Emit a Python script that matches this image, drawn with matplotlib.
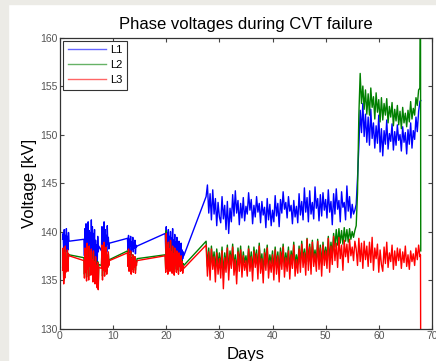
"""Phase voltages during CVT failure - L1/L2/L3 over days."""

from __future__ import annotations

import numpy as np
import matplotlib

matplotlib.use("Agg")
import matplotlib.pyplot as plt
from matplotlib.patches import Rectangle

plt.rcParams["font.family"] = ["Liberation Sans", "DejaVu Sans"]

# sampling days of the measurement clusters (start, stop, step)
segments = [
    (0.5, 1.7, 0.1),
    (4.5, 7.3, 0.1),
    (7.8, 9.3, 0.1),
    (12.7, 14.5, 0.1),
    (19.8, 23.3, 0.1),
    (27.5, 67.75, 0.25),
]

# L1 [kV]
l1_clusters = [
    139.2, 139.8, 137.6, 140.2, 138.5, 139.6, 137.9, 140.3, 138.8, 139.5, 138.1, 139.9, 139.0,
    139.2, 137.5, 140.3, 138.2, 140.8, 137.9, 139.6, 138.4, 141.0, 137.2, 140.1, 138.8, 139.9, 137.6,
    141.2, 138.3, 140.5, 137.0, 139.8, 138.1, 140.2, 136.8, 139.1, 137.4, 138.6, 136.2, 139.5, 137.9, 138.5,
    138.0, 140.5, 137.5, 139.8, 138.6, 141.0, 137.8, 140.2, 138.4, 139.6, 137.9, 140.6, 138.7, 139.4, 138.2, 138.8,
    139.3, 138.1, 139.6, 137.8, 139.2, 138.5, 139.5, 137.6, 138.9, 138.2, 139.4, 137.9, 138.8, 138.3, 139.1,
    137.7, 138.6, 138.4, 138.5,
    139.8, 138.0, 140.5, 137.6, 139.9, 138.4, 140.2, 137.3, 139.5, 138.1, 140.0, 137.8, 139.3, 138.6, 140.3,
    137.5, 139.1, 138.2, 139.7, 137.1, 138.9, 137.9, 139.4, 136.9, 138.7, 137.6, 139.0, 136.8, 138.5, 137.4,
    138.8, 136.6, 138.1, 137.2, 137.9, 137.5,
]
l1_long = [
    143.6, 144.8, 141.9, 143.9, 141.2, 144.3, 141.8, 143.4, 140.6, 143.0, 141.5,
    140.9, 143.6, 141.3, 142.7, 140.2, 143.1, 139.8, 142.4, 141.0, 143.8,
    141.6, 144.2, 141.9, 143.2, 140.7, 142.9, 141.4, 143.5, 141.1, 142.6,
    141.8, 144.0, 142.2, 143.3, 140.8, 142.7, 141.5, 143.6, 142.0, 142.9,
    140.9, 143.1, 141.7, 142.5, 140.4, 143.4, 141.2, 142.8, 140.6, 142.2,
    141.0, 143.7, 141.6, 142.9, 140.5, 143.3, 141.9, 144.1, 142.3, 143.0,
    141.4, 143.6, 142.1, 142.7, 140.8, 143.2, 141.5, 142.6, 140.9, 143.9,
    141.7, 143.1, 141.2, 144.5, 142.0, 143.5, 141.0, 144.2, 141.8, 143.0,
    141.3, 144.6, 142.4, 143.4, 141.1, 143.8, 141.6, 144.0, 142.2, 143.3,
    141.4, 144.3, 142.0, 143.1, 140.7, 143.9, 141.8, 144.4, 142.3, 143.2, 141.0,
    144.1, 142.5, 143.0, 141.2, 144.7, 142.1, 143.6, 141.4, 142.8, 141.8, 142.2,
    142.8, 145.5, 148.8, 152.5, 150.2, 153.2, 149.8, 152.1, 149.2, 151.8,
    148.9, 152.6, 149.6, 151.2, 148.6, 150.9, 149.1, 152.0, 148.2, 150.6,
    147.8, 150.4, 149.0, 151.5, 148.5, 150.1, 149.3, 151.1, 148.4, 150.3,
    148.9, 151.0, 149.4, 150.0, 148.3, 150.8, 149.2, 150.2, 148.0, 150.5,
    149.0, 151.2, 148.6, 150.4, 149.5, 151.8, 150.3, 152.4, 153.4,
]

# L2 [kV]
l2_clusters = [
    136.3, 138.0, 135.0, 137.5, 135.6, 138.2, 136.1, 137.0, 136.7, 137.9, 136.2, 137.6, 137.6,
    137.3, 135.6, 138.0, 136.2, 137.8, 135.3, 138.5, 136.4, 137.5, 135.4, 138.2, 136.7, 137.7, 135.9,
    138.0, 136.3, 137.3, 135.0, 137.8, 136.0, 137.0, 135.1, 137.2, 135.7, 136.6, 134.8, 136.9, 134.6, 136.6,
    136.5, 138.3, 135.4, 137.9, 136.3, 138.6, 135.8, 137.6, 136.2, 138.1, 135.9, 137.4, 136.6, 137.7, 136.8, 137.1,
    138.0, 136.7, 138.0, 136.2, 137.6, 137.0, 137.9, 136.0, 137.3, 136.4, 137.6, 136.1, 137.0, 136.6, 137.4,
    136.0, 136.9, 136.8, 137.2,
    137.6, 136.1, 140.1, 136.5, 138.5, 136.0, 138.7, 136.8, 138.1, 136.2, 138.9, 137.0, 137.8, 136.0, 138.4,
    136.6, 137.6, 135.9, 138.2, 136.8, 137.3, 136.1, 137.9, 136.3, 137.5, 135.9, 137.7, 136.6, 137.2, 136.2,
    137.4, 136.3, 137.0, 136.0, 136.7, 136.5,
]
l2_long = [
    139.0, 136.4, 138.3, 136.0, 138.5, 136.8, 137.9, 136.2, 138.2, 136.6, 137.8,
    136.3, 138.4, 135.5, 137.8, 136.6, 138.6, 136.0, 138.0, 136.9, 138.7,
    136.4, 137.6, 135.8, 138.3, 136.7, 138.5, 136.2, 137.9, 136.8, 137.5,
    136.4, 138.5, 136.7, 137.9, 136.0, 138.4, 137.0, 138.1, 136.2, 138.8,
    136.6, 137.7, 135.9, 138.2, 136.8, 138.6, 136.3, 137.6, 136.7, 138.0,
    136.1, 138.4, 136.5, 137.9, 136.0, 138.3, 136.9, 138.7, 136.4, 137.8,
    136.8, 138.4, 136.2, 138.0, 137.0, 138.9, 136.5, 137.6, 136.6, 138.5,
    136.7, 139.0, 137.1, 138.2, 136.6, 139.3, 136.9, 138.7, 136.7, 139.1,
    137.2, 138.1, 136.9, 139.2, 137.0, 138.6, 136.6, 138.9, 137.3, 138.4,
    137.2, 139.5, 137.0, 138.9, 137.6, 139.8, 138.4, 140.2, 138.6, 140.3, 138.8,
    140.1, 138.7, 140.4, 139.0, 140.2, 138.9, 140.3, 139.2, 140.0, 139.4, 140.1,
    140.6, 144.0, 152.0, 156.3, 153.2, 155.0, 152.6, 154.6, 152.1, 154.2,
    152.0, 154.8, 152.8, 153.9, 151.6, 154.3, 152.3, 153.6, 151.3, 153.8,
    151.5, 153.2, 152.0, 153.7, 151.2, 152.9, 151.8, 153.3, 150.9, 152.6,
    151.4, 153.0, 151.0, 152.4, 150.6, 152.8, 151.2, 152.2, 150.8, 152.5,
    151.3, 153.4, 151.6, 152.7, 152.0, 153.8, 153.0, 154.6, 154.8,
]

# L3 [kV]
l3_clusters = [
    136.0, 138.3, 134.6, 137.8, 135.2, 138.5, 135.8, 137.2, 136.4, 138.1, 135.9, 137.7, 137.5,
    137.0, 135.2, 138.3, 135.8, 137.6, 134.9, 138.8, 136.1, 137.3, 135.0, 138.5, 136.4, 137.9, 135.5,
    138.2, 136.0, 137.1, 134.8, 138.0, 135.7, 136.9, 134.6, 137.4, 135.3, 136.5, 134.2, 136.8, 134.0, 136.3,
    136.2, 138.6, 135.0, 138.2, 136.0, 138.9, 135.4, 137.8, 135.9, 138.4, 135.6, 137.5, 136.3, 137.9, 136.5, 137.0,
    137.8, 136.4, 138.2, 135.9, 137.5, 136.8, 138.0, 135.6, 137.2, 136.1, 137.6, 135.8, 136.9, 136.3, 137.4,
    135.7, 136.8, 136.5, 137.0,
    137.5, 135.8, 139.8, 136.2, 138.6, 135.6, 138.9, 136.5, 138.2, 135.9, 139.1, 136.8, 137.9, 135.7, 138.5,
    136.3, 137.7, 135.5, 138.3, 136.6, 137.4, 135.8, 138.0, 136.1, 137.6, 135.6, 137.8, 136.4, 137.2, 135.9,
    137.5, 136.0, 136.9, 135.7, 136.5, 136.2,
]
l3_long = [
    138.6, 135.4, 137.9, 135.0, 138.2, 136.1, 137.4, 134.8, 137.8, 135.6, 137.2,
    135.2, 138.0, 134.1, 137.3, 135.8, 138.3, 135.0, 137.6, 136.2, 138.4,
    135.5, 137.1, 134.6, 137.9, 135.9, 138.1, 135.3, 137.5, 136.0, 137.0,
    135.4, 138.2, 135.9, 137.4, 134.9, 138.0, 136.3, 137.7, 135.1, 138.5,
    135.7, 137.2, 134.7, 137.8, 136.0, 138.3, 135.2, 137.0, 135.8, 137.6,
    135.0, 138.1, 135.6, 137.5, 134.8, 137.9, 136.1, 138.4, 135.3, 137.3,
    135.9, 138.0, 135.1, 137.6, 136.2, 138.6, 135.4, 137.1, 135.7, 138.2,
    135.8, 138.7, 136.3, 137.8, 135.5, 139.2, 136.0, 138.4, 135.6, 138.9,
    136.4, 137.7, 135.9, 139.0, 136.1, 138.3, 135.4, 138.6, 136.5, 138.0,
    136.2, 139.3, 135.8, 138.5, 136.6, 139.5, 137.0, 138.8, 136.3, 139.4, 137.2,
    138.6, 136.0, 139.1, 137.4, 138.7, 136.8, 139.2, 137.5, 138.4, 137.0, 139.0,
    138.2, 136.5, 139.3, 136.9, 138.8, 136.2, 139.0, 137.1, 138.5, 136.4,
    138.9, 136.8, 139.4, 136.0, 138.3, 137.2, 138.7, 135.8, 138.1, 136.6,
    135.9, 138.4, 136.7, 138.9, 136.3, 137.8, 136.9, 138.6, 136.1, 138.0,
    136.5, 138.3, 137.0, 138.2, 136.2, 137.9, 136.8, 138.5, 136.4, 137.6,
    136.1, 138.0, 136.9, 137.7, 136.5, 138.3, 137.1, 138.6, 137.4,
]

# final readings when the CVT gives out
tail_days = [67.85, 67.9]
l1_tail = [153.5, 153.5]
l2_tail = [165.0, 138.0]
l3_tail = [137.6, 125.0]

labels = ["L1", "L2", "L3"]
colors = ["#0000ff", "#008000", "#ff0000"]


def _days() -> np.ndarray:
    parts = [np.arange(a, b + step / 2, step) for a, b, step in segments]
    return np.concatenate(parts + [np.array(tail_days)])


def main() -> None:
    days = _days()
    series = [
        np.array(l1_clusters + l1_long + l1_tail),
        np.array(l2_clusters + l2_long + l2_tail),
        np.array(l3_clusters + l3_long + l3_tail),
    ]

    fig = plt.figure(figsize=(4.36, 3.61), dpi=100)
    # grey window frame on the left and top
    fig.patches.append(Rectangle((0, 0), 8 / 436, 1, transform=fig.transFigure,
                                 color="#ecebe6", zorder=0))
    fig.patches.append(Rectangle((0, 1 - 4 / 361), 1, 4 / 361, transform=fig.transFigure,
                                 color="#ecebe6", zorder=0))

    ax = fig.add_axes([0.1376, 0.090, 0.853, 0.806])
    for y, lab, c in zip(series, labels, colors):
        ax.plot(days, y, color=c, linewidth=1.0, label=lab)

    ax.set_xlim(0, 70)
    ax.set_ylim(130, 160)
    ax.set_xticks(np.arange(0, 71, 10))
    ax.set_yticks(np.arange(130, 161, 5))
    ax.tick_params(direction="in", length=3, width=0.8, top=True, right=True,
                   labelsize=7.5, labelcolor="#555555", color="#444444", pad=2)
    for sp in ax.spines.values():
        sp.set_color("#333333")
        sp.set_linewidth(0.9)

    ax.set_title("Phase voltages during CVT failure", fontsize=12, pad=6)
    ax.set_xlabel("Days", fontsize=12, labelpad=4)
    ax.set_ylabel("Voltage [kV]", fontsize=12, labelpad=2)

    leg = ax.legend(loc="upper left", fontsize=8, handlelength=3.4, labelspacing=0.45,
                    borderaxespad=0.3, fancybox=False, framealpha=1, handletextpad=0.4,
                    borderpad=0.4)
    leg.get_frame().set_edgecolor("#333333")
    leg.get_frame().set_linewidth(0.8)
    for line in leg.get_lines():
        line.set_linewidth(1.0)
        line.set_alpha(0.6)

    fig.savefig("out.png", dpi=100)
    plt.close(fig)


if __name__ == "__main__":
    main()
